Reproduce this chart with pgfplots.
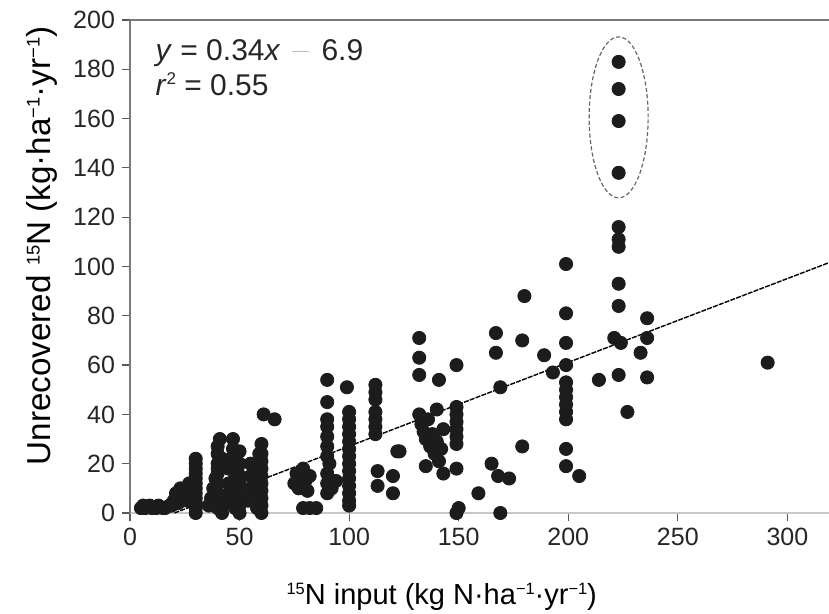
\documentclass[border=0pt]{standalone}
\usepackage{fontspec}
\setmainfont{Liberation Sans}
\usepackage{pgfplots}
\pgfplotsset{compat=1.18}
\usetikzlibrary{calc}
\definecolor{axgray}{HTML}{7A7A7A}
\definecolor{dotc}{HTML}{1C1C1C}
% small raised superscript: size, raise, text
\newcommand{\sps}[3]{\raisebox{#2}{\fontsize{#1}{#1}\selectfont #3}}

\begin{document}
\begin{tikzpicture}
\begin{axis}[
  name=ax,
  scale only axis, width=349.5pt, height=246.5pt,
  xmin=0, xmax=319, ymin=0, ymax=200,
  xtick={0,50,...,300}, ytick={0,20,...,200},
  axis x line*=bottom, axis y line*=left,
  x axis line style={draw=black!22, line width=1pt, -},
  y axis line style={draw=axgray, line width=0.8pt, -},
  tick style={draw=black!65, line width=0.6pt},
  tick align=outside, major tick length=4pt,
  ticklabel style={font=\fontsize{12.5}{14}\selectfont, text=black!85},
  /pgf/number format/assume math mode=true,
  every axis x label/.style={at={(axis description cs:0.446,-0.170)}, anchor=center},
  every axis y label/.style={at={(axis description cs:-0.126,0.542)}, rotate=90, anchor=center},
  xlabel={\fontsize{14.5}{16}\selectfont\sps{8.2}{4.8pt}{15}N input (kg N·ha\sps{8.2}{4.8pt}{−1}·yr\sps{8.2}{4.8pt}{−1})},
  ylabel={\fontsize{16.6}{18}\selectfont Unrecovered \sps{9.2}{5.5pt}{15}N (kg·ha\sps{9.2}{5.5pt}{−1}·yr\sps{9.2}{5.5pt}{−1})},
  clip=false,
]
\draw[axgray, line width=1.2pt] (rel axis cs:0,1) -- (rel axis cs:1,1);

\addplot[only marks, mark=*, mark size=3.3pt, draw=dotc, fill=dotc] table {
x y
5 2
6 3
7 2
9 3
10 2
12 2
13 3
15 2
16 2
18 3
19 3
20 5
21 8
22 4
23 10
24 6
25 7
26 5
27 12
28 9
30 0
30 2
30 4
30 6
30 8
30 10
30 12
30 14
30 16
30 18
30 20
30 22
36 3
37 6
38 10
39 14
40 18
40 2
40 5
40 8
40 12
40 16
40 20
40 24
40 27
41 30
42 22
42 0
44 4
45 8
45 12
45 18
46 22
47 26
47 30
48 23
48 2
48 6
48 10
48 14
49 17
50 0
50 3
50 5
50 9
50 12
50 15
50 20
50 25
51 10
54 5
55 10
55 15
55 20
56 8
57 13
58 18
58 2
59 24
60 28
60 0
60 3
60 6
60 9
60 12
60 15
60 18
60 21
60 24
61 40
66 38
75 12
76 16
77 10
78 14
79 18
80 13
81 9
82 15
79 2
82 2
85 2
90 54
90 45
90 38
90 35
90 31
90 27
90 23
90 16
90 12
90 8
91 20
92 10
94 13
99 51
100 41
100 38
100 35
100 32
100 29
100 26
100 23
100 20
100 17
100 14
100 11
100 8
100 5
100 3
112 52
112 49
112 46
112 41
112 38
112 35
112 32
113 17
113 11
120 15
120 8
122 25
123 25
132 71
132 63
132 56
141 54
149 60
132 40
133 36
134 33
135 30
136 38
137 27
138 32
139 24
140 29
141 21
142 26
143 34
143 16
135 19
140 42
149 43
149 40
149 37
149 34
149 31
149 28
149 18
149 0
150 2
159 8
165 20
168 15
173 14
169 0
167 73
167 65
169 51
179 70
180 88
179 27
189 64
193 57
199 101
199 81
199 69
199 60
199 53
199 50
199 47
199 44
199 41
199 38
199 26
199 19
205 15
214 54
223 183
223 172
223 159
223 138
223 116
223 111
223 108
223 93
223 84
221 71
224 69
223 56
236 79
236 71
233 65
236 55
227 41
291 61
};

\addplot[black, line width=0.7pt, no marks, dash pattern=on 2.5pt off 0.6pt] coordinates {(20.3,0) (319,101.56)};

\draw[black!60, line width=0.6pt, dash pattern=on 2pt off 1.2pt] (axis cs:223,160.5) ellipse [x radius=14.75pt, y radius=40.25pt];

\node[anchor=base west, font=\fontsize{15}{17}\selectfont, text=black!85, inner sep=0pt] at (axis description cs:0.036,0.917) {\textit{y} = 0.34\textit{x}\hspace{5.5pt}\textcolor{black!25}{\rule[0.3em]{8.5pt}{0.5pt}}\hspace{6.5pt}6.9};
\node[anchor=base west, font=\fontsize{15}{17}\selectfont, text=black!85, inner sep=0pt] at (axis description cs:0.036,0.846) {\textit{r}\sps{8.5}{5.5pt}{2} = 0.55};
\end{axis}
\pgfresetboundingbox
\path[use as bounding box] ($(ax.south west)+(-65pt,-50.5pt)$) rectangle ($(ax.north east)+(0pt,10pt)$);
\end{tikzpicture}
\end{document}
